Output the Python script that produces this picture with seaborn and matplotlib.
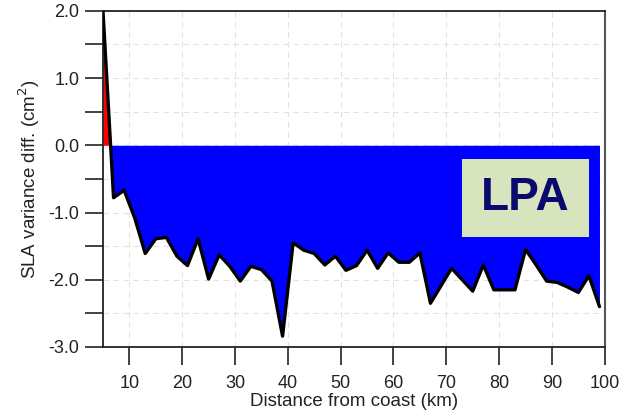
import numpy as np
import pandas as pd
import matplotlib
matplotlib.use("Agg")
import matplotlib.pyplot as plt
import seaborn as sns
from matplotlib.patches import Rectangle
from matplotlib.ticker import MultipleLocator, FuncFormatter

# Distance from coast (km) and SLA variance difference (cm^2)
distance_km = [5, 7, 9, 11, 13, 15, 17, 19, 21, 23, 25, 27, 29, 31, 33, 35,
               37, 39, 41, 43, 45, 47, 49, 51, 53, 55, 57, 59, 61, 63, 65, 67,
               69, 71, 73, 75, 77, 79, 81, 83, 85, 87, 89, 91, 93, 95, 97, 99]
variance_diff = [2.00, -0.78, -0.67, -1.08, -1.61, -1.39, -1.37, -1.65,
                 -1.79, -1.39, -1.99, -1.63, -1.80, -2.02, -1.80, -1.85,
                 -2.02, -2.84, -1.45, -1.56, -1.61, -1.78, -1.65, -1.86,
                 -1.79, -1.56, -1.83, -1.60, -1.74, -1.74, -1.60, -2.35,
                 -2.09, -1.83, -2.00, -2.17, -1.78, -2.15, -2.15, -2.15,
                 -1.55, -1.78, -2.02, -2.04, -2.11, -2.19, -1.94, -2.40]
panel_label = "LPA"

df = pd.DataFrame({"distance": distance_km, "diff": variance_diff})

sns.set_style("white")
plt.rcParams["font.family"] = ["Liberation Sans", "DejaVu Sans"]

fig = plt.figure(figsize=(6.28, 4.18), dpi=100)
ax = fig.add_axes([0.164, 0.170, 0.799, 0.804])

x = df["distance"].to_numpy()
y = df["diff"].to_numpy()
ax.fill_between(x, 0, y, where=y >= 0, interpolate=True, color="#FF0000",
                linewidth=0, zorder=2)
ax.fill_between(x, 0, y, where=y <= 0, interpolate=True, color="#0000FF",
                linewidth=0, zorder=2)
sns.lineplot(data=df, x="distance", y="diff", ax=ax, color="black",
             linewidth=2.4, zorder=3)

ax.set_xlim(5, 100)
ax.set_ylim(-3.0, 2.0)

ax.xaxis.set_major_locator(MultipleLocator(10))
ax.yaxis.set_major_locator(MultipleLocator(0.5))
ax.yaxis.set_major_formatter(FuncFormatter(
    lambda v, _: f"{v:.1f}" if abs(v - round(v)) < 1e-6 else ""))

ax.grid(True, linestyle=(0, (5, 4)), color="#e2e2e2", linewidth=0.8, zorder=0)
ax.set_axisbelow(True)

ax.tick_params(axis="both", which="major", direction="out", length=13,
               width=1.2, color="#222222", labelsize=13,
               bottom=True, left=True, labelcolor="#222222")
ax.tick_params(axis="x", pad=7)
ax.tick_params(axis="y", pad=4)
for side in ["left", "bottom", "top"]:
    ax.spines[side].set_color("#222222")
    ax.spines[side].set_linewidth(1.3)
ax.spines["right"].set_color("#555555")
ax.spines["right"].set_linewidth(1.5)

ax.set_xlabel("Distance from coast (km)", fontsize=13.5, labelpad=1,
              color="#222222")
ax.set_ylabel("SLA variance diff. (cm$^2$)", fontsize=13.5, labelpad=5,
              color="#222222")

# Region label in a shaded box
box_x0, box_y0, box_w, box_h = 0.715, 0.327, 0.253, 0.233
ax.add_patch(Rectangle((box_x0, box_y0), box_w, box_h, transform=ax.transAxes,
                       facecolor="#D8E4BE", edgecolor="none", zorder=4))
ax.text(box_x0 + box_w / 2, box_y0 + box_h / 2, panel_label,
        transform=ax.transAxes, ha="center", va="center", fontsize=33,
        fontweight="bold", color="#0A0A6E", zorder=5)

fig.savefig("out.png", dpi=100)
